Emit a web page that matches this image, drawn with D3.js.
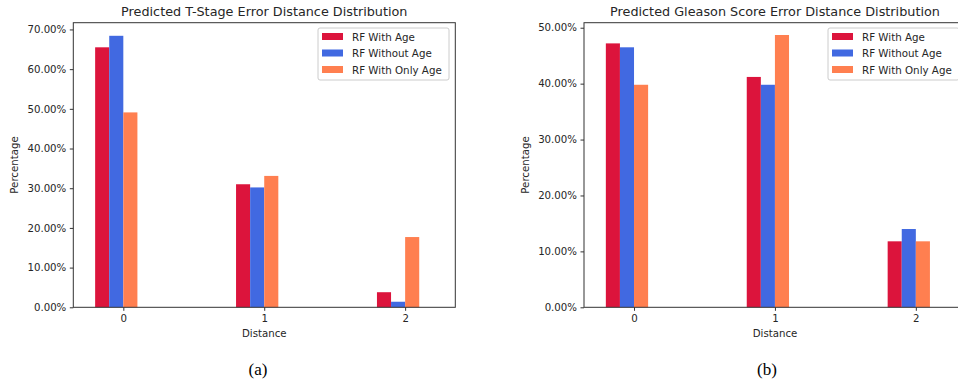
<!DOCTYPE html>
<html>
<head>
<meta charset="utf-8">
<script src="https://cdn.jsdelivr.net/npm/d3@7"></script>
<style>
  body { margin: 0; background: #fff; }
  text { font-family: "DejaVu Sans", sans-serif; fill: #262626; }
</style>
</head>
<body>
<div class="canva"></div>
<script>
// data
const distances = [0, 1, 2];
const seriesNames = ['RF With Age', 'RF Without Age', 'RF With Only Age'];
const seriesColors = ['#DC143C', '#4169E1', '#FF7F50'];

const tStageWithAge = [65.5, 31.0, 3.8];
const tStageWithoutAge = [68.4, 30.2, 1.4];
const tStageOnlyAge = [49.1, 33.1, 17.7];
const tStageTicks = [0, 10, 20, 30, 40, 50, 60, 70];

const gleasonWithAge = [47.2, 41.2, 11.8];
const gleasonWithoutAge = [46.5, 39.8, 14.0];
const gleasonOnlyAge = [39.8, 48.7, 11.8];
const gleasonTicks = [0, 10, 20, 30, 40, 50];

const svg = d3.select('.canva').append('svg')
  .attr('width', 958)
  .attr('height', 383);

// one panel = axes box + bars + legend
function drawPanel(opt) {
  const x = d3.scaleLinear().domain([-0.355, 2.356]).range([opt.left, opt.left + 382]);
  const y = d3.scaleLinear().domain([0, opt.yMax]).range([307.3, 22.7]);
  const g = svg.append('g');

  const series = opt.values.map((vals, s) => ({name: seriesNames[s], color: seriesColors[s], vals, off: -0.2 + 0.1 * s}));
  const bw = x(0.1) - x(0);

  series.forEach(sr => {
    g.selectAll(null)
      .data(distances)
      .enter().append('rect')
      .attr('x', d => x(d + sr.off))
      .attr('width', bw)
      .attr('y', d => y(sr.vals[d]))
      .attr('height', d => y(0) - y(sr.vals[d]))
      .attr('fill', sr.color);
  });

  // frame
  g.append('rect')
    .attr('x', x.range()[0]).attr('y', y.range()[1])
    .attr('width', x.range()[1] - x.range()[0])
    .attr('height', y.range()[0] - y.range()[1])
    .attr('fill', 'none').attr('stroke', '#333').attr('stroke-width', 1);

  const xAxis = g.append('g')
    .attr('transform', `translate(0, ${y(0)})`)
    .call(d3.axisBottom(x).tickValues(distances).tickFormat(d3.format('d')).tickSize(3.5).tickPadding(3.5));
  const yAxis = g.append('g')
    .attr('transform', `translate(${x.range()[0]}, 0)`)
    .call(d3.axisLeft(y).tickValues(opt.ticks).tickFormat(d => d.toFixed(2) + '%').tickSize(3.5).tickPadding(3.5));
  [xAxis, yAxis].forEach(a => {
    a.select('.domain').remove();
    a.selectAll('line').attr('stroke', '#333');
    a.selectAll('text').style('font-size', '10.2px').attr('fill', '#262626');
  });

  const cx = (x.range()[0] + x.range()[1]) / 2;
  g.append('text')
    .attr('x', cx).attr('y', 16)
    .attr('text-anchor', 'middle')
    .style('font-size', '12.8px')
    .text(opt.title);

  g.append('text')
    .attr('x', cx).attr('y', 337)
    .attr('text-anchor', 'middle')
    .style('font-size', '10.2px')
    .text('Distance');

  g.append('text')
    .attr('transform', `translate(${opt.left - 55}, 165) rotate(-90)`)
    .attr('text-anchor', 'middle')
    .style('font-size', '10.2px')
    .text('Percentage');

  g.append('text')
    .attr('x', opt.capX).attr('y', 375)
    .attr('text-anchor', 'middle')
    .style('font-family', '"Liberation Serif", serif')
    .style('font-size', '17px')
    .style('fill', '#000')
    .text(opt.caption);

  // legend
  const lg = g.append('g').attr('transform', `translate(${opt.legX}, 28)`);
  lg.append('rect')
    .attr('width', 131).attr('height', 52).attr('rx', 2)
    .attr('fill', '#fff').attr('fill-opacity', 0.8)
    .attr('stroke', '#ccc');
  series.forEach((sr, i) => {
    lg.append('rect')
      .attr('x', 4).attr('y', 5 + i * 16.5)
      .attr('width', 21).attr('height', 7)
      .attr('fill', sr.color);
    lg.append('text')
      .attr('x', 34).attr('y', 12.5 + i * 16.5)
      .style('font-size', '10.3px')
      .text(sr.name);
  });
}

drawPanel({
  left: 73.3, yMax: 71.7, ticks: tStageTicks,
  values: [tStageWithAge, tStageWithoutAge, tStageOnlyAge],
  title: 'Predicted T-Stage Error Distance Distribution',
  caption: '(a)', capX: 258, legX: 318
});

drawPanel({
  left: 584, yMax: 50.9, ticks: gleasonTicks,
  values: [gleasonWithAge, gleasonWithoutAge, gleasonOnlyAge],
  title: 'Predicted Gleason Score Error Distance Distribution',
  caption: '(b)', capX: 767, legX: 828
});
</script>
</body>
</html>
